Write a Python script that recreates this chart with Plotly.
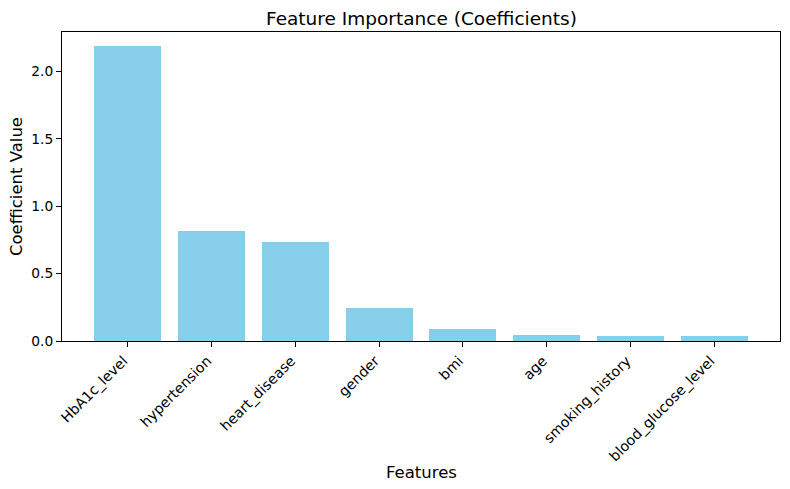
import plotly.graph_objects as go

features = ["HbA1c_level", "hypertension", "heart_disease", "gender", "bmi", "age",
            "smoking_history", "blood_glucose_level"]
coefficients = [2.186, 0.820, 0.738, 0.248, 0.092, 0.047, 0.040, 0.040]
y_ticks = [0.0, 0.5, 1.0, 1.5, 2.0]
y_tick_labels = ["0.0", "0.5", "1.0", "1.5", "2.0"]

W, H = 790, 489
L, R, T, B = 62, 10, 32, 148
PW, PH = W - L - R, H - T - B

fig = go.Figure(go.Bar(x=list(range(len(features))), y=coefficients,
                       marker=dict(color="skyblue", line=dict(width=0)), width=0.8))

font_family = "DejaVu Sans"
fig.update_layout(
    width=W, height=H,
    margin=dict(l=L, r=R, t=T, b=B, autoexpand=False),
    paper_bgcolor="white", plot_bgcolor="white",
    font=dict(family=font_family, color="black", size=13.8),
    showlegend=False,
    bargap=0,
    annotations=[
        dict(text="Feature Importance (Coefficients)", xref="paper", yref="paper",
             x=0.5, y=1 + (T - 19) / PH, xanchor="center", yanchor="middle",
             showarrow=False, font=dict(size=18.5, family=font_family, color="black")),
        dict(text="Features", xref="paper", yref="paper",
             x=0.5, y=-(472 - (H - B)) / PH, xanchor="center", yanchor="middle",
             showarrow=False, font=dict(size=16.5, family=font_family, color="black")),
        dict(text="Coefficient Value", xref="paper", yref="paper",
             x=-(L - 16.5) / PW, y=0.5, xanchor="center", yanchor="middle",
             textangle=-90, showarrow=False,
             font=dict(size=16.5, family=font_family, color="black")),
    ],
)
fig.update_xaxes(
    range=[-0.78, 7.78], tickmode="array", tickvals=list(range(len(features))),
    ticktext=features, tickangle=-45, ticks="outside", ticklen=5, tickwidth=1,
    tickcolor="black", showline=True, linecolor="black", linewidth=1, mirror=True,
    showgrid=False, zeroline=False, automargin=False, ticklabelshift=-4,
    tickfont=dict(size=14.2),
)
fig.update_yaxes(
    range=[0, 2.293], tickmode="array", tickvals=y_ticks, ticktext=y_tick_labels,
    ticks="outside", ticklen=5, tickwidth=1, tickcolor="black",
    showline=True, linecolor="black", linewidth=1, mirror=True,
    showgrid=False, zeroline=False, automargin=False,
    tickfont=dict(size=13.8),
)

fig.write_html("out.html", config={"displayModeBar": False},
               post_script="document.body.style.margin='0';document.body.style.overflow='hidden';")
